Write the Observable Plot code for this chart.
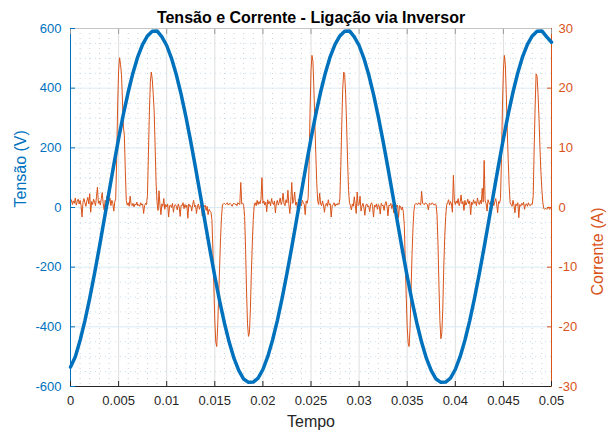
<!DOCTYPE html>
<html><head><meta charset="utf-8">
<script src="https://cdn.jsdelivr.net/npm/d3@7"></script>
<script src="https://cdn.jsdelivr.net/npm/@observablehq/plot@0.6"></script>
<style>
body{margin:0;background:#fff;}
#chart{position:relative;width:614px;height:435px;}
#chart svg{position:absolute;left:0;top:0;}
</style></head><body><div id="chart"></div>
<script>
const title = "Tensão e Corrente - Ligação via Inversor";
const xLabel = "Tempo";
const yLeftLabel = "Tensão (V)";
const yRightLabel = "Corrente (A)";
const xTicks = [0, 0.005, 0.01, 0.015, 0.02, 0.025, 0.03, 0.035, 0.04, 0.045, 0.05];
const voltageTicks = [-600, -400, -200, 0, 200, 400, 600];
const currentTicks = [-30, -20, -10, 0, 10, 20, 30];

// voltage (V), one reading every 0.0005 s from t = 0
const voltageStep = 0.0005;
const voltage = [
  -535, -500, -445, -379, -304, -221, -133, -41, 51, 143,
  231, 313, 387, 452, 506, 547, 575, 591, 592, 572,
  543, 500, 445, 379, 304, 221, 133, 41, -51, -143,
  -231, -313, -387, -452, -506, -547, -575, -586, -585, -572,
  -543, -500, -445, -379, -304, -221, -133, -41, 51, 143,
  231, 313, 387, 452, 506, 547, 575, 591, 592, 572,
  543, 500, 445, 379, 304, 221, 133, 41, -51, -143,
  -231, -313, -387, -452, -506, -547, -575, -586, -585, -572,
  -543, -500, -445, -379, -304, -221, -133, -41, 51, 143,
  231, 313, 387, 452, 506, 547, 575, 591, 592, 572, 554
];

// current (A), one reading every 0.0001 s from t = 0
const currentStep = 0.0001;
const current = [
  0.9, 1.3, 0.5, 1.1, 0.7, 1.6, 0.4, 1.0, 1.4, 0.6,
  1.2, 0.3, -1.6, 0.9, 1.5, 0.8, 0.2, 1.1, 1.7, 0.6,
  2.3, -0.8, 1.0, 0.5, 1.4, 0.9, 0.3, 1.8, 3.4, 0.7,
  1.1, 0.4, 1.5, 2.5, 0.6, -0.4, 1.2, 0.8, 1.9, 0.5,
  1.0, 1.6, 0.3, 1.2, 0.7, -0.6, 0.9, 1.5, 8, 17,
  23, 25.1, 24, 22.3, 18, 13.5, 12, 6, 1.2, 0.4,
  0.8, 0.2, 1.9, 0.5, 0.3, 0.7, 0.1, 0.6, 0.4, 0.9,
  0.3, 0.5, 0.2, 0.8, 0.4, 0.6, -1.0, 0.3, 0.7, 0.5,
  2, 9, 16, 21, 22.7, 21.5, 19, 16, 10, 4,
  0.8, -0.5, 2.8, 0.4, -1.2, 0.6, 0.2, 1.5, -0.3, 0.5,
  0.1, 0.6, -1.6, 0.3, 0.4, 0.0, 0.7, -0.8, 0.3, 0.5,
  0.2, -0.4, 0.6, 0.1, -1.5, 0.4, 0.3, 0.8, -0.2, 0.5,
  0.0, 0.4, -1.8, 0.6, 0.2, 0.3, -0.6, 0.5, 1.2, 0.1,
  0.4, -1.0, 0.3, 0.6, -0.3, 0.2, 0.5, -1.4, 0.3, 0.1,
  0.4, -0.5, 0.2, -1.2, -0.3, -0.6, -0.8, -2, -7, -13,
  -19, -22.5, -23.3, -20, -15, -10, -5, -1.5, 0.5, 0.6,
  0.7, 0.5, 0.6, 0.8, 0.4, 0.6, 0.7, 0.5, 0.2, 0.6,
  0.7, 0.5, 0.6, 0.3, 0.8, 0.6, 0.5, 4.2, 0.6, 0.7,
  0.4, -1.5, -7, -14, -19.5, -21.6, -21, -17, -11, -6,
  -2, 0.4, 0.8, 0.3, 1.2, 0.5, 1.0, 0.6, 1.4, 5.0,
  0.7, 1.1, 0.4, 0.9, -0.7, 1.3, 0.6, 1.0, 0.3, 1.5,
  0.8, 0.5, 1.1, -0.9, 0.7, 1.2, 0.4, 0.9, 1.6, 0.5,
  1.0, 2.4, 0.6, 0.3, 1.3, 0.8, 2.9, 0.5, -1.0, 1.1,
  4.2, 0.7, 1.2, 2.6, 0.4, 0.9, -0.5, 1.4, 0.6, 1.0,
  0.3, 1.2, 0.8, 0.5, -1.2, 1.1, 0.7, 1.5, 7, 16,
  23, 25.5, 24.5, 20, 14, 9, 4, 1, 0.5, 2.4,
  0.6, 0.3, 1.1, 0.4, -0.8, 0.5, 0.7, 0.2, 1.3, 0.4,
  0.6, -1.6, 0.3, 0.5, 0.8, 0.2, 0.6, 0.4, 0.7, 0.5,
  1.5, 7, 14, 20, 22.7, 22.3, 19, 14, 8, 3,
  0.8, 0.3, -0.4, 0.6, 0.2, 1.8, 0.4, -1.0, 2.6, 0.3,
  0.5, 1.9, -0.6, 0.2, 0.7, 0.0, -1.3, 0.4, 0.6, 0.1,
  0.3, -0.7, 0.5, 0.8, 0.2, -1.6, 0.4, 0.1, 0.6, -0.3,
  0.5, 0.2, -1.1, 0.7, 0.3, 0.4, -0.5, 0.6, 1.0, 0.2,
  -1.4, 0.4, 0.3, 0.7, -0.2, 0.5, -0.9, 0.3, 0.6, 0.1,
  0.4, -1.7, 0.3, 0.2, -0.4, 0.1, -0.8, -3, -9, -15,
  -20, -22.7, -23.3, -20, -14, -8, -3.5, -0.5, 0.5, 0.7,
  0.6, 0.5, 0.8, 0.6, 0.4, 2.7, 0.7, 0.6, 0.5, 0.8,
  0.6, 0.5, -0.4, 0.7, 0.6, 0.5, 0.8, 0.6, 0.4, 0.6,
  0.5, -1.2, -6, -13, -19, -22, -21, -17, -10, -5,
  -1.5, 0.4, 0.8, 1.3, 0.4, 1.0, 0.6, -0.8, 5.4, 1.2,
  0.5, 1.1, 0.7, 1.5, 0.3, 0.9, 2.1, 0.6, 1.0, -0.5,
  1.2, 0.4, 0.8, 1.4, 0.6, 1.1, -1.2, 0.9, 0.5, 1.3,
  0.7, 1.0, 0.3, 1.6, 0.8, 0.5, 1.2, 0.6, 3.2, 0.9,
  7.9, 1.1, 0.7, -0.6, 1.3, 0.8, 0.5, 1.0, 0.6, 1.4,
  0.3, 0.9, 1.5, 0.6, -0.9, 1.0, 0.7, 1.5, 8, 17,
  23, 25.5, 24, 19, 13, 8, 3.5, 0.8, 0.5, 0.2,
  1.2, 0.4, -0.9, 0.6, 0.3, 0.8, -1.7, 0.5, 0.2, 0.7,
  0.4, 0.9, -0.3, 0.5, 0.6, 0.2, 0.8, 0.4, 0.3, 0.6,
  0.5, 2, 10, 17, 22.4, 22, 19, 15, 10, 6,
  3, 0.8, -0.2, -0.3, -0.1, -0.3, -0.2, 0.1, -0.3, -0.2, -0.2
];

const BLUE = "#0072BD", ORANGE = "#D95319", DARK = "#262626";
const FONT = "'Liberation Sans', Arial, Helvetica, sans-serif";

const voltageData = voltage.map((v, i) => ({t: i * voltageStep, v}));
const currentData = current.map((a, i) => ({t: i * currentStep, a}));

const xMinor = d3.range(0, 51).map(i => i / 1000).filter((d, i) => i % 5 !== 0);
const yMinor = d3.range(-600, 601, 50).filter(d => d % 200 !== 0);

const common = {
  width: 614, height: 435,
  marginLeft: 70, marginRight: 63, marginTop: 28, marginBottom: 49,
  x: {domain: [0, 0.05]}
};

// back layer: grid + current (right axis)
const back = Plot.plot({
  ...common,
  style: {fontFamily: FONT, background: "white", overflow: "visible"},
  x: {domain: [0, 0.05], axis: null},
  y: {domain: [-30, 30], axis: null},
  marks: [
    Plot.ruleX(xMinor, {stroke: "#cfcfcf", strokeDasharray: "1,4"}),
    Plot.ruleY(yMinor.map(d => d / 20), {stroke: "#c6dff0", strokeDasharray: "1,4"}),
    Plot.ruleX(xTicks, {stroke: "#dedede"}),
    Plot.ruleY(currentTicks, {stroke: "#d9eaf5"}),
    Plot.line(currentData, {x: "t", y: "a", stroke: ORANGE, strokeWidth: 1}),
    Plot.ruleX([0.05], {stroke: ORANGE}),
    Plot.axisY(currentTicks, {anchor: "right", tickSize: 5, dx: -5, tickFormat: () => "", color: ORANGE, label: null}),
    Plot.axisY(currentTicks, {anchor: "right", tickSize: 0, tickPadding: 7, fontSize: 13, tickFormat: d => String(d), color: ORANGE, label: null}),
    Plot.text([yRightLabel], {frameAnchor: "right", dx: 46, rotate: -90, fill: ORANGE, fontSize: 16, text: d => d})
  ]
});

// front layer: voltage (left axis), x axis, title
const front = Plot.plot({
  ...common,
  style: {fontFamily: FONT, background: "transparent", overflow: "visible"},
  y: {domain: [-600, 600]},
  marks: [
    Plot.line(voltageData, {x: "t", y: "v", stroke: BLUE, strokeWidth: 3.5, strokeLinejoin: "round"}),
    Plot.ruleY([600], {stroke: "#c4c4c4"}),
    Plot.ruleY([-600], {stroke: DARK}),
    Plot.ruleX([0], {stroke: BLUE}),
    Plot.axisY(voltageTicks, {anchor: "left", tickSize: 5, dx: 5, tickFormat: () => "", color: BLUE, label: null}),
    Plot.axisY(voltageTicks, {anchor: "left", tickSize: 0, tickPadding: 9, fontSize: 13, tickFormat: d => String(d), color: BLUE, label: null}),
    Plot.axisX(xTicks, {anchor: "bottom", tickSize: 5, dy: -5, tickFormat: () => "", color: DARK, label: null}),
    Plot.axisX(xTicks, {anchor: "top", tickSize: 5, dy: 5, tickFormat: () => "", color: "#9a9a9a", label: null}),
    Plot.axisX(xTicks, {anchor: "bottom", tickSize: 0, tickPadding: 9, fontSize: 13, tickFormat: d => String(d), color: DARK, label: null}),
    Plot.text([xLabel], {frameAnchor: "bottom", dy: 40, fill: DARK, fontSize: 16, text: d => d}),
    Plot.text([yLeftLabel], {frameAnchor: "left", dx: -50, rotate: -90, fill: BLUE, fontSize: 16, text: d => d}),
    Plot.text([title], {frameAnchor: "top", dy: -17, fill: "#000", fontSize: 16, fontWeight: "bold", text: d => d})
  ]
});

const chart = document.getElementById("chart");
chart.appendChild(back);
chart.appendChild(front);
</script>
</body></html>
